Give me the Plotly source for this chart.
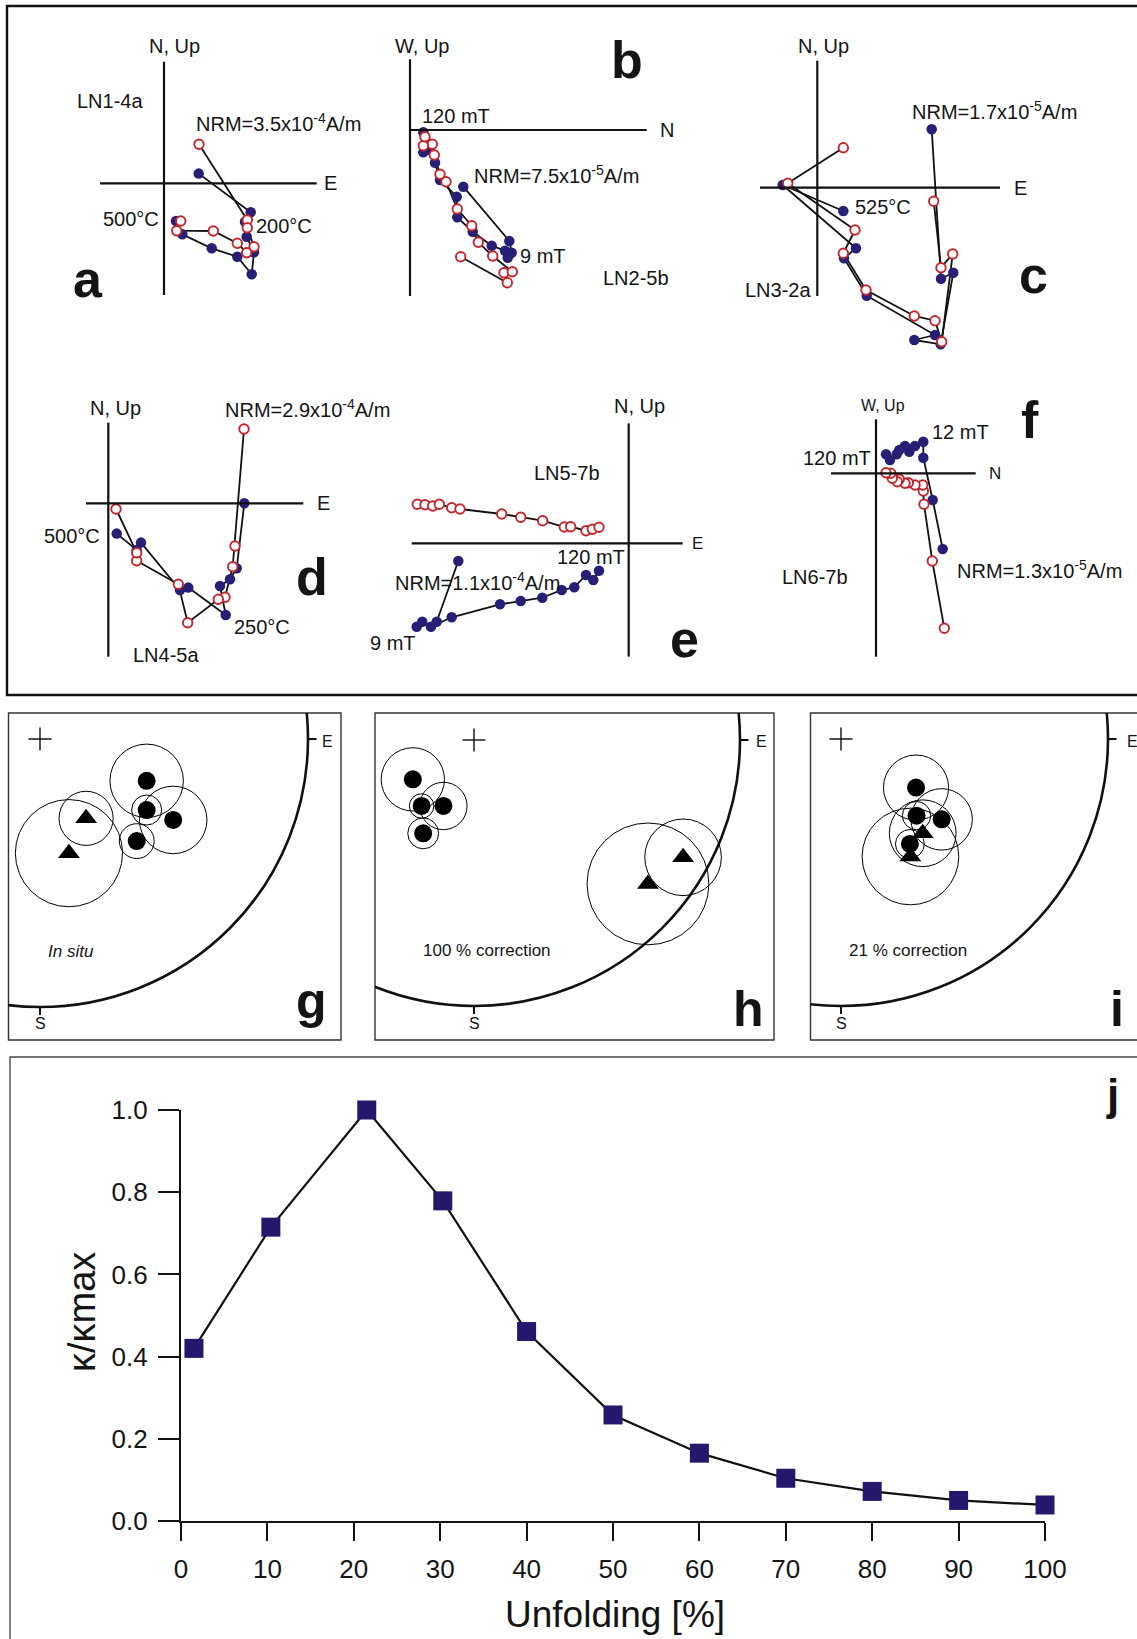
import plotly.graph_objects as go

W, H = 1137, 1639
FONT = "Liberation Sans, Arial, Helvetica, sans-serif"
NAVY = "#271f75"
RED = "#c3262d"
INK = "#141414"

# ======================= DATA =======================
# Orthogonal (Zijderveld) projections, arbitrary units relative to the axis origin.
# *_h_* : horizontal projection (closed symbols), *_v_* : vertical projection (open symbols)
# (a) LN1-4a, thermal
a_h_x = [34.7, 86.7, 81.0, 82.7, 90.0, 87.7, 73.3, 47.7, 18.3, 12.0]
a_h_y = [9.7, -29.0, -38.4, -53.4, -69.0, -91.0, -73.4, -65.0, -51.0, -37.7]
a_v_x = [35.0, 83.3, 83.3, 90.0, 82.7, 73.3, 49.3, 12.7, 16.7]
a_v_y = [39.0, -36.7, -44.4, -63.4, -69.4, -60.0, -47.7, -47.4, -37.7]
# (b) LN2-5b, AF
b_h_x = [53.3, 99.3, 101.7, 97.7, 95.0, 81.7, 62.7, 47.3, 46.7, 30.0, 25.0, 16.7, 13.3, 13.3]
b_h_y = [-56.7, -111.0, -122.7, -127.7, -120.7, -115.7, -101.7, -87.3, -66.7, -50.0, -32.7, -20.0, -22.3, -2.3]
b_v_x = [50.7, 97.3, 94.0, 102.3, 82.7, 68.3, 61.7, 47.3, 36.0, 30.0, 24.3, 22.3, 13.3, 15.0]
b_v_y = [-126.7, -152.7, -142.7, -141.7, -126.0, -112.3, -95.7, -79.0, -51.7, -44.3, -25.0, -14.3, -15.7, -6.7]
# (c) LN3-2a, thermal
c_h_x = [114.4, 123.7, 136.0, 123.4, 97.0, 117.7, 49.4, 26.7, 38.7, -34.6, 26.0]
c_h_y = [58.4, -91.0, -85.0, -156.6, -152.3, -147.3, -108.0, -70.6, -60.6, 2.7, -23.3]
c_v_x = [116.4, 123.7, 135.4, 124.4, 117.7, 97.0, 48.7, 26.0, 37.7, -29.6, 26.0]
c_v_y = [-13.6, -80.0, -66.3, -154.0, -133.0, -128.3, -102.3, -65.6, -42.3, 4.4, 40.0]
# (d) LN4-5a, thermal
d_h_x = [136.0, 128.4, 121.7, 111.7, 117.4, 80.0, 71.7, 32.7, 28.4, 8.4]
d_h_y = [0.0, -65.0, -76.0, -82.7, -111.7, -84.3, -86.7, -39.3, -46.7, -30.3]
d_v_x = [135.7, 126.7, 124.4, 116.7, 110.0, 79.4, 70.0, 28.4, 28.4, 7.7]
d_v_y = [74.3, -42.7, -63.4, -94.0, -96.0, -119.4, -81.0, -57.4, -49.4, -5.7]
# (e) LN5-7b, AF
e_h_x = [-170.4, -192.0, -212.0, -206.4, -197.7, -177.0, -128.7, -108.0, -86.4, -67.0, -54.4, -42.7, -35.4, -29.7]
e_h_y = [-17.7, -78.4, -83.4, -78.4, -83.4, -74.0, -61.0, -57.7, -54.4, -46.7, -44.0, -31.7, -36.7, -27.4]
e_v_x = [-211.4, -203.7, -196.0, -189.4, -177.0, -168.7, -127.0, -108.0, -86.0, -64.4, -58.0, -42.7, -36.4, -29.7]
e_v_y = [39.0, 38.6, 37.3, 39.0, 35.6, 34.3, 29.3, 26.0, 22.6, 16.3, 16.6, 12.6, 14.0, 16.0]
# (f) LN6-7b, AF
f_h_x = [66.7, 56.7, 47.3, 47.3, 39.0, 33.3, 29.0, 23.3, 20.7, 14.0, 10.0]
f_h_y = [-75.7, -26.7, 15.6, 31.6, 27.3, 21.6, 27.3, 23.3, 19.0, 13.3, 19.0]
f_v_x = [68.3, 56.3, 48.0, 47.3, 46.7, 39.0, 32.3, 29.0, 23.3, 21.3, 16.3, 14.7, 10.0]
f_v_y = [-155.0, -87.7, -31.0, -17.7, -11.7, -11.7, -9.4, -10.0, -6.0, -8.4, -5.0, 0.0, 0.6]

# Stereonet site means (east, north in units of the primitive radius) with alpha95 radii
g_dot_x = [0.398, 0.398, 0.497, 0.361]
g_dot_y = [-0.156, -0.265, -0.302, -0.381]
g_dot_a95 = [0.137, 0.056, 0.126, 0.065]
g_tri_x = [0.172, 0.108]
g_tri_y = [-0.296, -0.426]
g_tri_a95 = [0.101, 0.200]

h_dot_x = [-0.230, -0.197, -0.115, -0.191]
h_dot_y = [-0.148, -0.248, -0.248, -0.351]
h_dot_a95 = [0.119, 0.046, 0.089, 0.058]
h_tri_x = [0.786, 0.654]
h_tri_y = [-0.441, -0.541]
h_tri_a95 = [0.144, 0.229]

i_dot_x = [0.281, 0.283, 0.377, 0.258]
i_dot_y = [-0.182, -0.287, -0.301, -0.393]
i_dot_a95 = [0.122, 0.053, 0.115, 0.054]
i_tri_x = [0.306, 0.260]
i_tri_y = [-0.353, -0.440]
i_tri_a95 = [0.125, 0.181]

# (j) fold test
j_unfold = [1.5, 10.4, 21.5, 30.3, 40, 50, 60, 70, 80, 90, 100]
j_kappa = [0.42, 0.715, 1.0, 0.779, 0.461, 0.258, 0.165, 0.104, 0.072, 0.050, 0.039]
j_xticks = [0, 10, 20, 30, 40, 50, 60, 70, 80, 90, 100]
j_yticks = [0.0, 0.2, 0.4, 0.6, 0.8, 1.0]

# ======================= FIGURE =======================
fig = go.Figure()
layout = dict(template="none", width=W, height=H,
              margin=dict(l=0, r=0, t=0, b=0, pad=0, autoexpand=False),
              paper_bgcolor="white", plot_bgcolor="white", showlegend=False)
shapes = []
anns = []


def axk(i, c):
    return c + "axis" + ("" if i == 1 else str(i))


def rf(i, c):
    return c + ("" if i == 1 else str(i))


def set_axes(i, px0, py0, px1, py1, xr, yr, visible=False):
    layout[axk(i, "x")] = dict(domain=[px0 / W, min(px1 / W, 1.0)], range=xr, visible=visible,
                               fixedrange=True, anchor=rf(i, "y"), automargin=False)
    layout[axk(i, "y")] = dict(domain=[1 - py1 / H, 1 - py0 / H], range=yr, visible=visible,
                               fixedrange=True, anchor=rf(i, "x"), automargin=False)


def ann(text, x, y, size=20, xanchor="center", angle=0):
    anns.append(dict(text=text, x=x / W, y=1 - y / H, xref="paper", yref="paper",
                     showarrow=False, xanchor=xanchor, yanchor="middle", textangle=angle,
                     font=dict(family=FONT, size=size, color=INK)))


def prect(x0, y0, x1, y1, width, color):
    shapes.append(dict(type="rect", xref="paper", yref="paper", x0=x0 / W, x1=x1 / W,
                       y0=1 - y1 / H, y1=1 - y0 / H, line=dict(color=color, width=width),
                       fillcolor="rgba(0,0,0,0)"))


# ---------- Zijderveld panels ----------
ZIJ = [
    dict(i=1, o=(164, 183.3), box=(50, 35, 380, 320), hl=(-64, 152.7), vl=(-111.7, 121.6),
         h=(a_h_x, a_h_y), v=(a_v_x, a_v_y)),
    dict(i=2, o=(410, 130), box=(385, 35, 705, 320), hl=(0, 236.7), vl=(-166, 70.7),
         h=(b_h_x, b_h_y), v=(b_v_x, b_v_y)),
    dict(i=3, o=(817.3, 187.7), box=(735, 35, 1135, 365), hl=(-57.3, 182.7), vl=(-108.3, 127),
         h=(c_h_x, c_h_y), v=(c_v_x, c_v_y)),
    dict(i=4, o=(108.3, 503.3), box=(30, 380, 380, 685), hl=(-22.3, 195), vl=(-153.4, 80.6),
         h=(d_h_x, d_h_y), v=(d_v_x, d_v_y)),
    dict(i=5, o=(628.7, 543.3), box=(380, 380, 725, 685), hl=(-217, 54), vl=(-113.4, 120),
         h=(e_h_x, e_h_y), v=(e_v_x, e_v_y)),
    dict(i=6, o=(876, 473.3), box=(760, 380, 1135, 685), hl=(-45, 99.7), vl=(-183.4, 54),
         h=(f_h_x, f_h_y), v=(f_v_x, f_v_y)),
]

for p in ZIJ:
    i = p["i"]
    ox, oy = p["o"]
    bx0, by0, bx1, by1 = p["box"]
    set_axes(i, bx0, by0, bx1, by1, [bx0 - ox, bx1 - ox], [oy - by1, oy - by0])
    xr, yr = rf(i, "x"), rf(i, "y")
    shapes.append(dict(type="line", xref=xr, yref=yr, x0=p["hl"][0], x1=p["hl"][1], y0=0, y1=0,
                       line=dict(color="#111", width=2.2)))
    shapes.append(dict(type="line", xref=xr, yref=yr, x0=0, x1=0, y0=p["vl"][0], y1=p["vl"][1],
                       line=dict(color="#111", width=2.2)))
    fig.add_trace(go.Scatter(x=p["v"][0], y=p["v"][1], xaxis=xr, yaxis=yr, mode="lines",
                             line=dict(color="#111", width=1.8), hoverinfo="skip"))
    fig.add_trace(go.Scatter(x=p["h"][0], y=p["h"][1], xaxis=xr, yaxis=yr, mode="lines+markers",
                             line=dict(color="#111", width=1.8),
                             marker=dict(color=NAVY, size=10.5, line=dict(width=0))))
    fig.add_trace(go.Scatter(x=p["v"][0], y=p["v"][1], xaxis=xr, yaxis=yr, mode="markers",
                             marker=dict(color="white", size=9.5, line=dict(color=RED, width=1.9))))

# ---------- Stereonet panels ----------
STEREO = [
    dict(i=7, c=(40, 739), R=268, box=(8.5, 713, 341, 1040),
         dots=(g_dot_x, g_dot_y, g_dot_a95), tris=(g_tri_x, g_tri_y, g_tri_a95)),
    dict(i=8, c=(474, 740), R=266, box=(375, 713, 774, 1040),
         dots=(h_dot_x, h_dot_y, h_dot_a95), tris=(h_tri_x, h_tri_y, h_tri_a95)),
    dict(i=9, c=(841, 739), R=267, box=(810.5, 713, 1137, 1040),
         dots=(i_dot_x, i_dot_y, i_dot_a95), tris=(i_tri_x, i_tri_y, i_tri_a95)),
]

for p in STEREO:
    i = p["i"]
    cx, cy = p["c"]
    R = p["R"]
    bx0, by0, bx1, by1 = p["box"]
    set_axes(i, bx0, by0, bx1, by1, [(bx0 - cx) / R, (bx1 - cx) / R], [(cy - by1) / R, (cy - by0) / R])
    xr, yr = rf(i, "x"), rf(i, "y")
    prect(bx0, by0, bx1 if bx1 < W else W + 10, by1, 1.4, "#333")
    shapes.append(dict(type="circle", xref=xr, yref=yr, x0=-1, x1=1, y0=-1, y1=1,
                       line=dict(color="#111", width=2.6)))
    shapes.append(dict(type="line", xref=xr, yref=yr, x0=1.0, x1=1.032, y0=0, y1=0,
                       line=dict(color="#111", width=2)))
    shapes.append(dict(type="line", xref=xr, yref=yr, x0=0, x1=0, y0=-1.0, y1=-1.03,
                       line=dict(color="#111", width=2)))
    shapes.append(dict(type="line", xref=xr, yref=yr, x0=-0.043, x1=0.043, y0=0, y1=0,
                       line=dict(color="#111", width=1.4)))
    shapes.append(dict(type="line", xref=xr, yref=yr, x0=0, x1=0, y0=-0.043, y1=0.043,
                       line=dict(color="#111", width=1.4)))
    for (xs, ys, rs) in (p["dots"], p["tris"]):
        for x, y, r in zip(xs, ys, rs):
            shapes.append(dict(type="circle", xref=xr, yref=yr, x0=x - r, x1=x + r, y0=y - r, y1=y + r,
                               line=dict(color="#000", width=1.0)))
    fig.add_trace(go.Scatter(x=p["dots"][0], y=p["dots"][1], xaxis=xr, yaxis=yr, mode="markers",
                             marker=dict(color="black", size=18, symbol="circle")))
    fig.add_trace(go.Scatter(x=p["tris"][0], y=p["tris"][1], xaxis=xr, yaxis=yr, mode="markers",
                             marker=dict(color="black", size=19, symbol="triangle-up")))

# ---------- j panel ----------
jx0, jx1, jy_top, jy_bot = 181, 1045, 1110, 1521
layout["xaxis10"] = dict(domain=[jx0 / W, jx1 / W], range=[0, 100], anchor="y10", fixedrange=True,
                         automargin=False,
                         showline=True, linecolor="#111", linewidth=2.2, ticks="outside", ticklen=18,
                         tickwidth=2.2, tickcolor="#111", tickvals=j_xticks, showgrid=False,
                         zeroline=False, ticklabelstandoff=6,
                         tickfont=dict(family=FONT, size=26, color=INK))
layout["yaxis10"] = dict(domain=[1 - jy_bot / H, 1 - jy_top / H], range=[0, 1], anchor="x10",
                         fixedrange=True, automargin=False,
                         showline=True, linecolor="#111", linewidth=2.2,
                         ticks="outside", ticklen=21, tickwidth=2.2, tickcolor="#111",
                         tickvals=j_yticks, tickformat=".1f", showgrid=False, zeroline=False,
                         ticklabelstandoff=5, tickfont=dict(family=FONT, size=26, color=INK))
fig.add_trace(go.Scatter(x=j_unfold, y=j_kappa, xaxis="x10", yaxis="y10", mode="lines+markers",
                         cliponaxis=False, line=dict(color="#111", width=2.2),
                         marker=dict(symbol="square", size=19, color="#23186c", line=dict(width=0))))

# ---------- frames ----------
prect(7, 6, W + 20, 695, 2.4, "#111")
prect(10, 1057, W + 20, H + 20, 1.3, "#444")

# ---------- texts ----------
# a
ann("N, Up", 174, 46); ann("E", 330, 183); ann("LN1-4a", 110, 101)
ann("NRM=3.5x10<sup>-4</sup>A/m", 194, 122.7, xanchor="left")
ann("500°C", 161, 219, xanchor="right"); ann("200°C", 254, 226, xanchor="left")
# b
ann("W, Up", 421.7, 46); ann("N", 667, 130); ann("120 mT", 456, 115.7)
ann("NRM=7.5x10<sup>-5</sup>A/m", 471.7, 175, xanchor="left")
ann("9 mT", 518, 256, xanchor="left"); ann("LN2-5b", 636, 278)
# c
ann("N, Up", 823, 46); ann("E", 1020, 188)
ann("NRM=1.7x10<sup>-5</sup>A/m", 910, 110, xanchor="left")
ann("525°C", 852.7, 206.7, xanchor="left"); ann("LN3-2a", 778, 290)
# d
ann("N, Up", 115, 408); ann("E", 323, 503)
ann("NRM=2.9x10<sup>-4</sup>A/m", 222.7, 409, xanchor="left")
ann("500°C", 101.7, 536, xanchor="right"); ann("250°C", 232.3, 627, xanchor="left")
ann("LN4-5a", 166, 655)
# e
ann("N, Up", 639, 406); ann("E", 697, 543, size=17); ann("LN5-7b", 567, 473)
ann("120 mT", 591, 557); ann("NRM=1.1x10<sup>-4</sup>A/m", 392.7, 581, xanchor="left")
ann("9 mT", 393, 643)
# f
ann("W, Up", 883, 405, size=16); ann("N", 995, 473, size=17)
ann("12 mT", 930, 431.7, xanchor="left"); ann("120 mT", 873.3, 458.3, xanchor="right")
ann("NRM=1.3x10<sup>-5</sup>A/m", 955, 570, xanchor="left"); ann("LN6-7b", 814.5, 576.7)
# stereonets
ann("E", 327, 741.7, size=16); ann("S", 40, 1023, size=16)
ann("<i>In situ</i>", 71, 951, size=17)
ann("E", 761.7, 741.7, size=16); ann("S", 474, 1023, size=16)
ann("100 % correction", 487, 950, size=17)
ann("E", 1125, 741.7, size=16, xanchor="left"); ann("S", 841, 1023, size=16)
ann("21 % correction", 907.5, 950, size=17)
# panel letters
for t, x, y, s in [("a", 88, 279, 52), ("b", 627, 60, 52), ("c", 1033, 275, 52),
                   ("d", 312, 577, 52), ("e", 685, 639, 52), ("f", 1030, 420, 52),
                   ("g", 311, 1001, 50), ("h", 748, 1009, 50), ("i", 1117, 1009, 50),
                   ("j", 1112, 1094, 44)]:
    ann("<b>" + t + "</b>", x, y, size=s)
# j titles
ann("κ/κmax", 82, 1312, size=38, angle=-90)
ann("Unfolding [%]", 615, 1614, size=37)

layout["shapes"] = shapes
layout["annotations"] = anns
fig.update_layout(**layout)
fig.write_html("out.html")
